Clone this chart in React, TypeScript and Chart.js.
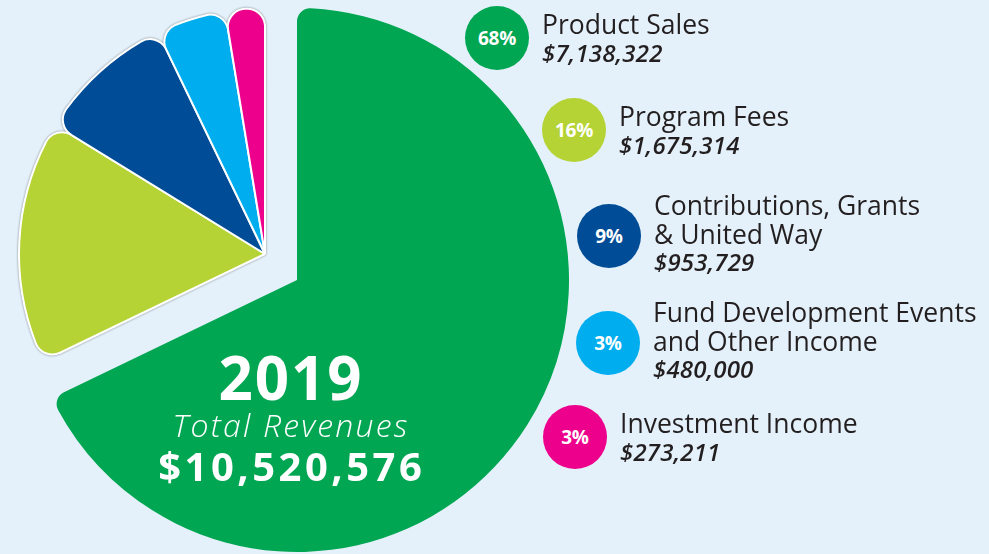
import React, { useEffect, useRef } from "react";
import { Chart, registerables } from "chart.js";

Chart.register(...registerables);

// ---------- data ----------
const categories = [
  "Product Sales",
  "Program Fees",
  "Contributions, Grants & United Way",
  "Fund Development Events and Other Income",
  "Investment Income",
];
const labelLines = [
  ["Product Sales"],
  ["Program Fees"],
  ["Contributions, Grants", "& United Way"],
  ["Fund Development Events", "and Other Income"],
  ["Investment Income"],
];
const revenues = [7138322, 1675314, 953729, 480000, 273211];
const percentLabels = ["68%", "16%", "9%", "3%", "3%"];
const sliceColors = ["#00a651", "#b5d334", "#004c97", "#00aeef", "#ec008c"];
const yearLabel = "2019";
const totalCaption = "Total Revenues";
const totalRevenue = 10520576;

// ---------- layout ----------
const W = 989;
const H = 554;
const BG = "#e4f1fa";
const TEXT = "#231f20";
const FONT = "'Open Sans', 'Noto Sans', sans-serif";
const MAIN = { cx: 297, cy: 280, r: 272 };
const EXPLODED = { cx: 265, cy: 254, r: 246 };
const legendCenters = [
  [497, 38],
  [574, 130],
  [609, 236],
  [608, 343],
  [575, 437],
];
const CENTER_X = 290;
const LABEL_SIZE = 26.5;
const AMOUNT_SIZE = 24;
const LINE = 28.5;

const money = (n: number) => "$" + n.toLocaleString("en-US");

function PieLayer(props: {
  cx: number;
  cy: number;
  r: number;
  show: (i: number) => boolean;
  borderWidth: number;
  radiusCorner: number;
  filter?: string;
}) {
  const ref = useRef<HTMLCanvasElement>(null);
  useEffect(() => {
    const { cx, cy, r, show, borderWidth, radiusCorner } = props;
    const top = 2 * cy > H ? 2 * cy - H : 0;
    const bottom = 2 * cy > H ? 0 : H - 2 * cy;
    const right = W - 2 * cx;
    const chart = new Chart(ref.current as HTMLCanvasElement, {
      type: "pie",
      data: {
        labels: categories,
        datasets: [
          {
            data: revenues,
            backgroundColor: sliceColors.map((c, i) => (show(i) ? c : "rgba(0,0,0,0)")),
            borderColor: sliceColors.map((_, i) => (show(i) ? "#ffffff" : "rgba(0,0,0,0)")),
            borderWidth: sliceColors.map((_, i) => (show(i) ? borderWidth : 0)),
            borderRadius: radiusCorner,
            radius: r,
            clip: false,
          } as any,
        ],
      },
      options: {
        responsive: false,
        animation: false,
        radius: r,
        events: [],
        layout: { padding: { left: 0, right, top, bottom } },
        plugins: {
          legend: { display: false },
          tooltip: { enabled: false },
          title: { display: false },
        },
      } as any,
    });
    return () => chart.destroy();
  }, []);
  return (
    <canvas
      ref={ref}
      width={W}
      height={H}
      style={{ position: "absolute", left: 0, top: 0, width: W, height: H, filter: props.filter }}
    />
  );
}

// top of a line box of height `lh` so that the baseline lands at `baseline` (Open Sans metrics)
const topFor = (baseline: number, size: number, lh: number) => baseline - lh / 2 - 0.388 * size;

function CenterLine(props: {
  text: string;
  size: number;
  baseline: number;
  weight: number;
  italic?: boolean;
  spacing: number;
}) {
  const { text, size, baseline, weight, italic, spacing } = props;
  return (
    <div
      style={{
        position: "absolute",
        left: CENTER_X - 250,
        width: 500,
        top: topFor(baseline, size, size),
        fontFamily: FONT,
        fontSize: size,
        lineHeight: `${size}px`,
        fontWeight: weight,
        fontStyle: italic ? "italic" : "normal",
        letterSpacing: spacing,
        paddingLeft: spacing,
        boxSizing: "border-box",
        textAlign: "center",
        color: "#ffffff",
        whiteSpace: "nowrap",
      }}
    >
      {text}
    </div>
  );
}

export default function App() {
  return (
    <div
      style={{
        position: "fixed",
        left: 0,
        top: 0,
        width: W,
        height: H,
        background: BG,
        overflow: "hidden",
      }}
    >
      <PieLayer
        cx={MAIN.cx}
        cy={MAIN.cy}
        r={MAIN.r}
        show={(i) => i === 0}
        borderWidth={0}
        radiusCorner={13}
      />
      <PieLayer
        cx={EXPLODED.cx}
        cy={EXPLODED.cy}
        r={EXPLODED.r}
        show={(i) => i > 0}
        borderWidth={2}
        radiusCorner={18}
        filter="drop-shadow(0 0 0.8px rgba(0,0,0,0.45))"
      />

      <CenterLine text={yearLabel} size={60} baseline={400} weight={700} spacing={2} />
      <CenterLine text={totalCaption} size={32} baseline={437} weight={300} italic spacing={2.2} />
      <CenterLine text={money(totalRevenue)} size={40} baseline={482} weight={700} spacing={3.5} />

      {categories.map((cat, i) => {
        const [cx, cy] = legendCenters[i];
        const firstBaseline = cy - 3 - 17 * (labelLines[i].length - 1);
        return (
          <React.Fragment key={cat}>
            <div
              style={{
                position: "absolute",
                left: cx - 32,
                top: cy - 32,
                width: 64,
                height: 64,
                borderRadius: "50%",
                background: sliceColors[i],
                display: "flex",
                alignItems: "center",
                justifyContent: "center",
                color: "#ffffff",
                fontFamily: FONT,
                fontWeight: 700,
                fontSize: 19,
                letterSpacing: -0.3,
              }}
            >
              {percentLabels[i]}
            </div>
            <div
              style={{
                position: "absolute",
                left: cx + 45,
                top: topFor(firstBaseline, LABEL_SIZE, LINE),
                color: TEXT,
                fontFamily: FONT,
                whiteSpace: "nowrap",
              }}
            >
              {labelLines[i].map((ln) => (
                <div
                  key={ln}
                  style={{ fontSize: LABEL_SIZE, lineHeight: `${LINE}px`, fontWeight: 400 }}
                >
                  {ln}
                </div>
              ))}
              <div
                style={{
                  fontSize: AMOUNT_SIZE,
                  lineHeight: `${LINE}px`,
                  fontWeight: 600,
                  fontStyle: "italic",
                  letterSpacing: 0.2,
                }}
              >
                {money(revenues[i])}
              </div>
            </div>
          </React.Fragment>
        );
      })}
    </div>
  );
}
